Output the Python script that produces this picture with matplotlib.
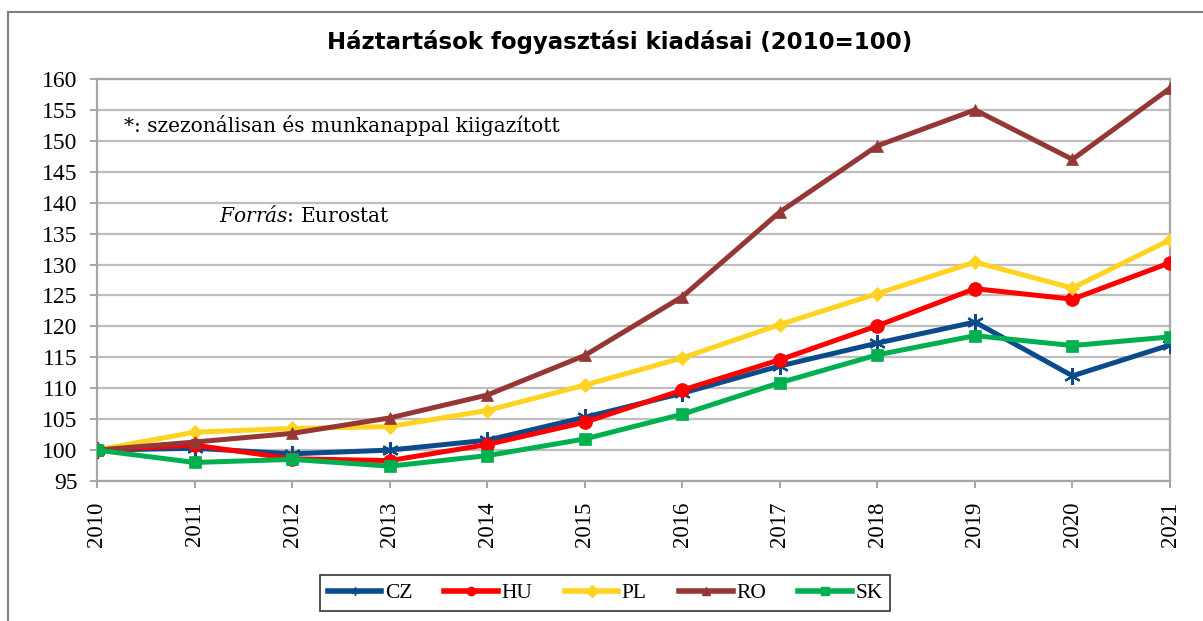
import numpy as np
import matplotlib.pyplot as plt
from matplotlib.lines import Line2D

years = [2010, 2011, 2012, 2013, 2014, 2015, 2016, 2017, 2018, 2019, 2020, 2021]
cz = [100.0, 100.3, 99.4, 100.0, 101.6, 105.3, 109.2, 113.6, 117.3, 120.7, 112.0, 117.0]
hu = [100.0, 100.8, 98.6, 98.3, 100.9, 104.5, 109.7, 114.6, 120.1, 126.1, 124.4, 130.3]
pl = [100.0, 102.9, 103.5, 103.8, 106.4, 110.5, 114.9, 120.3, 125.3, 130.4, 126.2, 134.0]
ro = [100.0, 101.3, 102.7, 105.2, 108.9, 115.3, 124.8, 138.5, 149.2, 155.0, 147.0, 158.5]
sk = [100.0, 98.0, 98.5, 97.4, 99.1, 101.8, 105.8, 110.9, 115.4, 118.5, 116.9, 118.3]

series = [
    ("CZ", cz, "#0B4A8B", (6, 2, 0), 12),
    ("HU", hu, "#FF0000", "o", 10),
    ("PL", pl, "#FFD320", "D", 7),
    ("RO", ro, "#953735", "^", 9),
    ("SK", sk, "#00B050", "s", 9),
]

serif = "DejaVu Serif"
tickfont = "Liberation Serif"
plt.rcParams["mathtext.fontset"] = "custom"
plt.rcParams["mathtext.it"] = "DejaVu Serif:italic"
plt.rcParams["mathtext.rm"] = "DejaVu Serif"

fig = plt.figure(figsize=(12.03, 6.21), dpi=100)
ax = fig.add_axes([0.0806, 0.2254, 0.8920, 0.6474])

for name, vals, col, mk, ms in series:
    ax.plot(years, vals, color=col, lw=3.6, marker=mk, ms=ms,
            markeredgecolor=col, markeredgewidth=1.6 if name == "CZ" else 0.5,
            label=name, zorder=3)

ax.set_xlim(2010, 2021)
ax.set_ylim(95, 160)
ax.set_yticks(np.arange(95, 161, 5))
ax.set_xticks(years)
ax.set_xticklabels([str(y) for y in years], rotation=90, fontsize=16.5, family=tickfont)
ax.set_yticklabels([str(v) for v in range(95, 161, 5)], fontsize=17, family=tickfont)
ax.grid(axis="y", color="#BFBFBF", lw=1.6, zorder=0)
for s in ax.spines.values():
    s.set_color("#A6A6A6")
    s.set_linewidth(1.6)
ax.tick_params(axis="both", length=5, width=1.4, color="#A6A6A6")
ax.tick_params(axis="y", pad=9)
ax.tick_params(axis="x", pad=10)

ax.text(2010.28, 152.4, "*: szezonálisan és munkanappal kiigazított",
        fontsize=14.5, family=serif, va="center")
ax.text(2011.25, 138.0, "$\\mathit{Forrás}$: Eurostat", fontsize=14.5,
        family=serif, va="center")

fig.text(0.515, 0.932, "Háztartások fogyasztási kiadásai (2010=100)",
         ha="center", va="center", fontsize=16.5, fontweight="bold",
         family="DejaVu Sans")

handles = [Line2D([0], [0], color=c, lw=4, marker=m, ms=6, markeredgecolor=c)
           for _, _, c, m, _ in series]
leg = fig.legend(handles, [n for n, *_ in series], loc="center",
                 bbox_to_anchor=(0.503, 0.045), ncol=5, frameon=True,
                 fancybox=False, edgecolor="black", handlelength=2.5,
                 handletextpad=0.15, columnspacing=1.5, borderpad=0.35,
                 prop={"family": "Liberation Serif", "size": 15.5})
leg.get_frame().set_linewidth(1.2)

# outer chart border (top and left visible)
fig.add_artist(Line2D([8 / 1203, 1.0], [1 - 12 / 621, 1 - 12 / 621],
                      color="#808080", lw=1.5, transform=fig.transFigure))
fig.add_artist(Line2D([8 / 1203, 8 / 1203], [0.0, 1 - 12 / 621],
                      color="#808080", lw=1.5, transform=fig.transFigure))

fig.savefig("out.png", dpi=100)
